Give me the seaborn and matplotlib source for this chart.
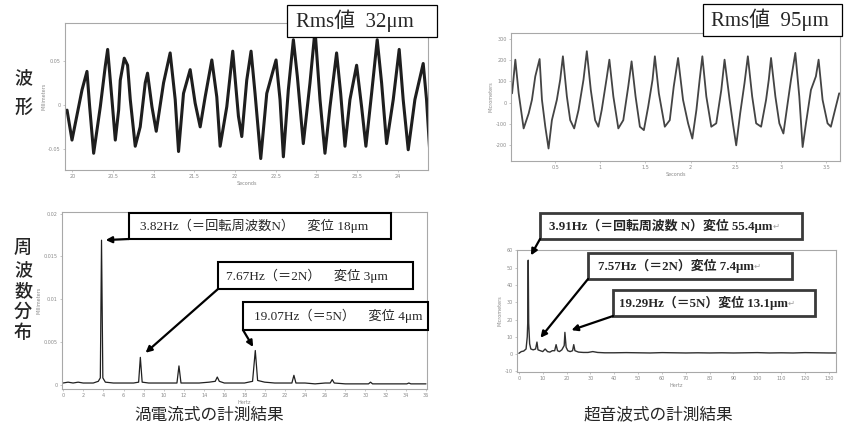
"""
plot.py — eddy-current vs ultrasonic displacement measurement (waveform + spectrum)
"""

import matplotlib
matplotlib.use("Agg")
import matplotlib.pyplot as plt
from matplotlib.patches import Rectangle
import seaborn as sns

W, H = 857, 433

# ---- eddy-current sensor: waveform (s, mm) ----
L_WAVE_T = [19.935, 19.996, 20.119, 20.180, 20.213, 20.262, 20.344, 20.405, 20.434, 20.487,
            20.528, 20.569, 20.589, 20.638, 20.679, 20.712, 20.773, 20.834, 20.896, 20.924,
            20.978, 21.031, 21.121, 21.202, 21.264, 21.305, 21.366, 21.448, 21.509, 21.571,
            21.632, 21.714, 21.775, 21.816, 21.898, 21.971, 22.041, 22.082, 22.143, 22.196,
            22.245, 22.315, 22.389, 22.503, 22.552, 22.593, 22.654, 22.716, 22.765, 22.838,
            22.920, 22.982, 23.043, 23.104, 23.166, 23.247, 23.297, 23.350, 23.411, 23.493,
            23.554, 23.607, 23.677, 23.746, 23.800, 23.861, 23.943, 24.016, 24.065, 24.127,
            24.209, 24.311, 24.352, 24.393]
L_WAVE_MM = [-0.006, -0.040, 0.017, 0.038, -0.002, -0.055, -0.002, 0.044, 0.063, 0.006,
             -0.040, -0.006, 0.028, 0.053, 0.045, 0.006, -0.047, -0.025, 0.025, 0.036,
             -0.002, -0.030, 0.025, 0.059, 0.006, -0.053, 0.013, 0.040, 0.002, -0.025,
             0.009, 0.051, 0.009, -0.047, -0.002, 0.061, -0.013, -0.036, 0.028, 0.061,
             0.013, -0.061, 0.013, 0.051, 0.006, -0.059, 0.017, 0.074, 0.032, -0.044,
             0.025, 0.085, 0.006, -0.055, -0.002, 0.059, 0.013, -0.047, 0.006, 0.045,
             -0.002, -0.047, 0.013, 0.074, 0.025, -0.044, 0.006, 0.063, 0.006, -0.051,
             0.006, 0.047, 0.006, -0.055]

# ---- ultrasonic sensor: waveform (s, µm) ----
R_WAVE_T = [0.022, 0.058, 0.095, 0.150, 0.206, 0.242, 0.279, 0.327, 0.353, 0.390,
            0.426, 0.463, 0.518, 0.555, 0.585, 0.629, 0.666, 0.710, 0.758, 0.813,
            0.850, 0.894, 0.942, 0.978, 1.015, 1.070, 1.100, 1.144, 1.199, 1.254,
            1.309, 1.346, 1.390, 1.438, 1.482, 1.530, 1.578, 1.604, 1.648, 1.714,
            1.769, 1.813, 1.861, 1.916, 1.972, 2.019, 2.064, 2.100, 2.130, 2.174,
            2.229, 2.284, 2.340, 2.376, 2.432, 2.468, 2.505, 2.549, 2.597, 2.634,
            2.682, 2.726, 2.781, 2.836, 2.866, 2.891, 2.939, 2.983, 3.028, 3.075,
            3.112, 3.160, 3.204, 3.241, 3.278, 3.333, 3.388, 3.418, 3.462, 3.517,
            3.554, 3.609, 3.646]
R_WAVE_UM = [44, 203, 44, -122, -51, 13, 124, 206, 13, -114,
             -217, -83, 13, 108, 219, 29, -83, -122, -35, 108,
             243, 60, -83, -114, -35, 116, 203, 29, -122, -83,
             76, 195, 29, -114, -130, -19, 108, 219, 44, -114,
             -83, 76, 211, 13, -98, -170, -35, 108, 219, 29,
             -114, -98, 60, 203, 13, -98, -202, -51, 92, 219,
             29, -98, -114, 13, 108, 211, 29, -98, -146, -3,
             108, 235, 29, -210, -98, 60, 124, 203, 13, -98,
             -114, -19, 44]

# ---- eddy-current spectrum (Hz, mm) ----
L_SPEC_FREQ = [0, 0.5, 1, 1.5, 2, 2.5, 3, 3.5, 3.7, 3.82,
               3.95, 4.2, 5, 6, 7, 7.5, 7.67, 7.85, 8.5, 9.5,
               10.5, 11.3, 11.5, 11.7, 12.5, 13.5, 14.5, 15.1, 15.3, 15.5,
               16, 17, 18, 18.8, 19.07, 19.3, 20, 21, 22, 22.7,
               22.9, 23.1, 24, 25, 26, 26.5, 26.7, 26.9, 28, 29,
               30.3, 30.5, 30.7, 32, 33, 34.1, 34.3, 34.5, 35, 36]
L_SPEC_AMP = [0.0002, 0.0003, 0.0002, 0.0003, 0.0002, 0.0002, 0.0002, 0.0004, 0.0008, 0.0169,
              0.0008, 0.0003, 0.0002, 0.0002, 0.0002, 0.0003, 0.0032, 0.0003, 0.0002, 0.0002,
              0.0002, 0.0002, 0.0022, 0.0002, 0.0002, 0.0002, 0.0003, 0.0004, 0.0009, 0.0004,
              0.0002, 0.0002, 0.0002, 0.0004, 0.0040, 0.0005, 0.0003, 0.0002, 0.0002, 0.0002,
              0.0011, 0.0002, 0.0002, 0.0001, 0.0002, 0.0002, 0.0006, 0.0002, 0.0001, 0.0001,
              0.0001, 0.0003, 0.0001, 0.0001, 0.0001, 0.0001, 0.0002, 0.0001, 0.0001, 0.0001]

# ---- ultrasonic spectrum (Hz, µm) ----
R_SPEC_FREQ = [0, 1, 2, 3, 3.5, 3.7, 3.91, 4.1, 4.5, 5,
               6, 7, 7.57, 8, 9, 10, 11, 12, 13, 14,
               15, 15.6, 16.2, 17, 18, 19, 19.29, 19.8, 20.5, 21.5,
               22.5, 23, 23.5, 25, 27, 29, 31, 33, 36, 40,
               45, 50, 55, 60, 65, 70, 75, 80, 85, 90,
               95, 100, 105, 110, 115, 120, 125, 130, 133]
R_SPEC_AMP = [0.5, 1.5, 1.8, 3, 10, 18, 54.3, 18, 6, 3,
              2.5, 3, 7, 2.5, 2, 1.5, 3, 1.5, 1.2, 2,
              2, 5.5, 2, 1.5, 2.5, 5, 12.6, 4, 2, 1.5,
              2, 5.5, 2, 1.2, 1, 1, 1.5, 1, 0.8, 0.8,
              0.9, 0.8, 0.7, 0.9, 0.8, 0.7, 0.8, 0.7, 0.8, 0.7,
              0.8, 0.9, 0.7, 0.8, 0.7, 0.9, 0.8, 0.7, 0.7]

# ticks
L_WAVE_XTICKS = [20, 20.5, 21, 21.5, 22, 22.5, 23, 23.5, 24]
L_WAVE_YTICKS = [-0.05, 0, 0.05]
R_WAVE_XTICKS = [0.5, 1, 1.5, 2, 2.5, 3, 3.5]
R_WAVE_YTICKS = [-200, -100, 0, 100, 200, 300]
L_SPEC_XTICKS = list(range(0, 37, 2))
L_SPEC_YTICKS = [0, 0.005, 0.01, 0.015, 0.02]
R_SPEC_XTICKS = list(range(0, 131, 10))
R_SPEC_YTICKS = list(range(-10, 61, 10))

# annotations
RMS_LABELS = ["Rms値  32μm", "Rms値  95μm"]
L_NOTE_FREQ = [3.82, 7.67, 19.07]
L_NOTES = ["3.82Hz（＝回転周波数N）　変位 18μm",
           "7.67Hz（＝2N）　変位 3μm",
           "19.07Hz（＝5N）　変位 4μm"]
R_NOTE_FREQ = [3.91, 7.57, 19.29]
R_NOTES = ["3.91Hz（＝回転周波数 N）変位 55.4μm",
           "7.57Hz（＝2N）変位 7.4μm",
           "19.29Hz（＝5N）変位 13.1μm"]
ROW_LABELS = ["波形", "周波数分布"]
TITLES = ["渦電流式の計測結果", "超音波式の計測結果"]

SERIF = ["Liberation Serif", "Noto Sans CJK JP", "DejaVu Sans"]
GOTHIC = ["Noto Sans CJK JP", "DejaVu Sans"]
GRAY = "#8a8a8a"

sns.set_theme(style="ticks")
plt.rcParams["font.family"] = ["DejaVu Sans"]

fig = plt.figure(figsize=(W / 100, H / 100), dpi=100)


def box(x0, y0, x1, y1):
    """image-pixel box -> figure fraction [l, b, w, h]"""
    return [x0 / W, 1 - y1 / H, (x1 - x0) / W, (y1 - y0) / H]


def style(ax, xticks, yticks, xlabel, ylabel):
    ax.set_xticks(xticks, [f"{v:g}" for v in xticks])
    ax.set_yticks(yticks, [f"{v:g}" for v in yticks])
    for s in ax.spines.values():
        s.set_visible(True)
        s.set_color("#a8a8a8")
        s.set_linewidth(0.8)
    ax.tick_params(labelsize=3.5, labelcolor=GRAY, color="#b0b0b0",
                   length=1.5, width=0.5, pad=1.5)
    ax.set_xlabel(xlabel, fontsize=3.5, color=GRAY, labelpad=1.5)
    ax.set_ylabel(ylabel, fontsize=3.5, color=GRAY, labelpad=1.5)


# waveforms
ax_tl = fig.add_axes(box(65, 23, 428, 170))
sns.lineplot(x=L_WAVE_T, y=L_WAVE_MM, ax=ax_tl, color="#1e1e1e",
             linewidth=2.2, estimator=None, sort=False)
ax_tl.set_xlim(19.91, 24.37)
ax_tl.set_ylim(-0.074, 0.093)
style(ax_tl, L_WAVE_XTICKS, L_WAVE_YTICKS, "Seconds", "Millimeters")

ax_tr = fig.add_axes(box(511, 33, 840, 161))
sns.lineplot(x=R_WAVE_T, y=R_WAVE_UM, ax=ax_tr, color="#444444",
             linewidth=1.3, estimator=None, sort=False)
ax_tr.set_xlim(0.01, 3.655)
ax_tr.set_ylim(-276, 329)
style(ax_tr, R_WAVE_XTICKS, R_WAVE_YTICKS, "Seconds", "Micrometers")

# spectra
ax_bl = fig.add_axes(box(62, 212, 427, 389))
sns.lineplot(x=L_SPEC_FREQ, y=L_SPEC_AMP, ax=ax_bl, color="#202020",
             linewidth=0.9, estimator=None, sort=False)
ax_bl.set_xlim(-0.1, 36.1)
ax_bl.set_ylim(-0.0005, 0.0202)
style(ax_bl, L_SPEC_XTICKS, L_SPEC_YTICKS, "Hertz", "Millimeters")

ax_br = fig.add_axes(box(517, 250, 836, 372))
sns.lineplot(x=R_SPEC_FREQ, y=R_SPEC_AMP, ax=ax_br, color="#303030",
             linewidth=1.0, estimator=None, sort=False)
ax_br.set_xlim(-0.8, 133)
ax_br.set_ylim(-10.3, 60.2)
style(ax_br, R_SPEC_XTICKS, R_SPEC_YTICKS, "Hertz", "Micrometers")

# overlay in image-pixel coordinates for labels, boxes and arrows
ov = fig.add_axes([0, 0, 1, 1], zorder=5)
ov.set_xlim(0, W)
ov.set_ylim(H, 0)
ov.axis("off")


def note_box(x0, y0, x1, y1, text, size, pad, weight="normal", lw=1.0, ec="black"):
    ov.add_patch(Rectangle((x0, y0), x1 - x0, y1 - y0, facecolor="white",
                           edgecolor=ec, linewidth=lw, zorder=3))
    return ov.text(x0 + pad, (y0 + y1) / 2, text, fontsize=size, family=SERIF,
                   fontweight=weight, ha="left", va="center", zorder=4)


def note_arrow(x0, y0, ax, fx, fy, shrink):
    ov.annotate("", xy=(fx, fy), xycoords=ax.transData, xytext=(x0, y0),
                textcoords="data", annotation_clip=False, zorder=5,
                arrowprops=dict(arrowstyle="-|>", color="black", lw=1.6,
                                mutation_scale=9, shrinkA=0, shrinkB=shrink))


# Rms value boxes
note_box(287, 5, 437, 37, RMS_LABELS[0], 15, 9, lw=0.9)
note_box(703, 4, 842, 36, RMS_LABELS[1], 15, 8, lw=0.9)

# eddy-current spectrum notes
l_boxes = [(129, 213, 391, 239, 11), (218, 262, 413, 289, 8), (243, 302, 428, 330, 11)]
l_shrink = [3, 5, 3]
for (x0, y0, x1, y1, pad), text, f, sh in zip(l_boxes, L_NOTES, L_NOTE_FREQ, l_shrink):
    note_box(x0, y0, x1, y1, text, 9.5, pad, lw=1.5)
    note_arrow(x0, y1, ax_bl, f, L_SPEC_AMP[L_SPEC_FREQ.index(f)], sh)

# ultrasonic spectrum notes
r_boxes = [(540, 213, 802, 239, 9), (588, 253, 792, 279, 10), (613, 290, 815, 316, 6)]
r_shrink = [4, 4, 5]
for (x0, y0, x1, y1, pad), text, f, sh in zip(r_boxes, R_NOTES, R_NOTE_FREQ, r_shrink):
    t = note_box(x0, y0, x1, y1, text, 9.3, pad, weight="bold", lw=2.0, ec="#3a3a3a")
    ov.annotate("↵", xy=(1, 0.45), xycoords=t, ha="left", va="center",
                fontsize=6, color="#a0a0a0", zorder=6)
    note_arrow(x0, y1, ax_br, f, R_SPEC_AMP[R_SPEC_FREQ.index(f)], sh)

# row labels (vertical)
for ch, y in zip(ROW_LABELS[0], [78, 108]):
    ov.text(23, y, ch, fontsize=13, family=GOTHIC, fontweight="medium",
            ha="center", va="center")
for ch, y in zip(ROW_LABELS[1], [248, 270, 291, 312, 333]):
    ov.text(23, y, ch, fontsize=13, family=GOTHIC, fontweight="medium",
            ha="center", va="center")

# column titles
ov.text(209, 415, TITLES[0], fontsize=12, family=GOTHIC, ha="center", va="center")
ov.text(658, 415, TITLES[1], fontsize=12, family=GOTHIC, ha="center", va="center")

plt.savefig("out.png", dpi=100)
plt.close()
